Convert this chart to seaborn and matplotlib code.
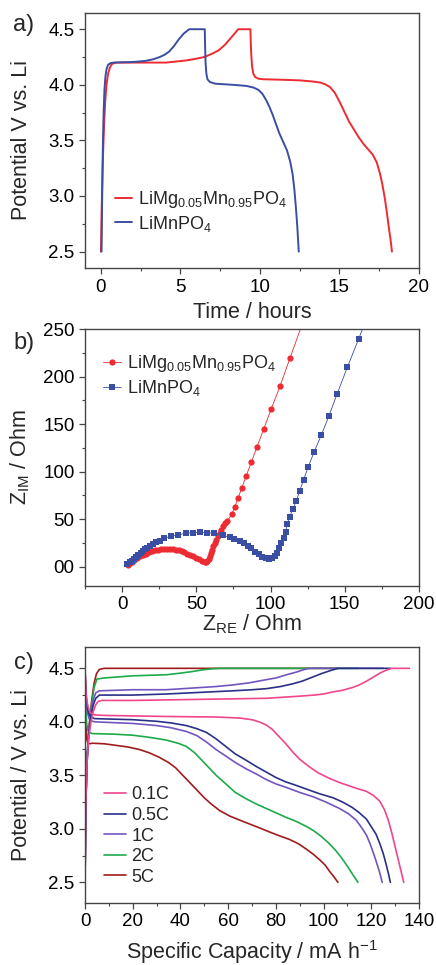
"""
Three stacked panels: charge/discharge vs time, Nyquist plot, rate capability.
"""
import numpy as np
import matplotlib
matplotlib.use("Agg")
import matplotlib.pyplot as plt
from matplotlib.ticker import MultipleLocator, FormatStrFormatter
import seaborn as sns

# ============================
# Data - panel a (time / hours, potential / V)
# ============================
t_mg = [0.0, 0.05, 0.1, 0.15, 0.2, 0.27, 0.35, 0.45, 0.55, 0.65, 0.8, 1.0, 2.0, 4.1,
        5.4, 6.0, 6.5, 7.0, 7.4, 7.8, 8.1, 8.4, 8.63,
        9.4, 9.42, 9.45, 9.5, 9.58, 9.7, 9.9, 10.2, 11.5, 12.5, 13.3, 13.8, 14.1, 14.4,
        14.7, 15.0, 15.3, 15.6, 15.9, 16.2, 16.5, 16.8, 17.1, 17.35, 17.55, 17.7, 17.85,
        17.98, 18.1, 18.2, 18.3]
v_mg = [2.5, 2.9, 3.2, 3.45, 3.65, 3.85, 4.0, 4.1, 4.15, 4.18, 4.195, 4.2, 4.2, 4.2,
        4.22, 4.235, 4.25, 4.28, 4.31, 4.36, 4.41, 4.46, 4.5,
        4.5, 4.4, 4.28, 4.17, 4.1, 4.07, 4.055, 4.05, 4.045, 4.04, 4.03, 4.02, 4.005, 3.98,
        3.93, 3.85, 3.76, 3.67, 3.6, 3.53, 3.47, 3.42, 3.37, 3.3, 3.2, 3.1, 2.98,
        2.85, 2.72, 2.62, 2.5]
t_mn = [0.04, 0.07, 0.1, 0.13, 0.17, 0.22, 0.28, 0.35, 0.45, 0.6, 0.8, 2.0, 2.8, 3.3,
        3.7, 4.0, 4.3, 4.6, 4.9, 5.2, 5.55,
        6.53, 6.55, 6.58, 6.63, 6.7, 6.85, 7.2, 8.3, 9.15, 9.6, 9.9, 10.15, 10.4, 10.6,
        10.8, 11.0, 11.2, 11.45, 11.7, 11.9, 12.05, 12.17, 12.27, 12.35, 12.44]
v_mn = [2.5, 2.9, 3.25, 3.5, 3.75, 3.95, 4.07, 4.14, 4.18, 4.195, 4.2, 4.205, 4.215, 4.23,
        4.25, 4.27, 4.3, 4.35, 4.41, 4.46, 4.5,
        4.5, 4.35, 4.2, 4.1, 4.05, 4.025, 4.01, 4.0, 3.99, 3.975, 3.955, 3.92, 3.86, 3.8,
        3.73, 3.65, 3.57, 3.49, 3.41, 3.31, 3.2, 3.05, 2.88, 2.72, 2.5]

# ============================
# Data - panel b (Z_RE, Z_IM / Ohm)
# ============================
zre_mg = [3.8, 5, 6.5, 8, 10, 12, 14, 16, 18, 20, 22, 24, 26, 28, 30, 32, 34, 36, 38,
          40, 42, 44, 46, 48, 50, 52, 54, 55.5, 56.5, 57.5, 58.3, 59, 59.8, 60.6,
          61.5, 62.4, 63.4, 64.5, 65.6, 66.8, 68.0, 69.3, 70.8, 73.9, 76.0, 78.0,
          80.7, 83.6, 87.0, 90.8, 95.3, 100.4, 106.5, 113.0, 121.5]
zim_mg = [1.8, 3.5, 5.3, 7, 9, 10.8, 12.4, 13.9, 15.2, 16.3, 17.2, 17.9, 18.4, 18.7,
          18.8, 18.7, 18.4, 17.8, 17.1, 16.2, 15.1, 13.8, 12.3, 10.8, 9.2, 7.7, 6.3,
          5.4, 5.2, 6.2, 8.5, 11.5, 14.5, 18, 21.5, 25, 28.5, 32, 35.5, 39, 42.5,
          45.5, 48.0, 55.4, 63.1, 71.9, 83.1, 95.7, 109.7, 125.9, 144.5, 165.8,
          190.4, 219.1, 256]
zre_mn = [3.4, 5, 6.5, 8, 9.5, 11, 12.5, 14, 15.5, 17, 18.8, 20.6, 22.8, 25.2, 28.5,
          33.0, 37.5, 42.7, 47.6, 52.6, 57.3, 62.2, 67.8, 72.4, 75.7, 79.1, 81.8,
          84.7, 87.0, 89.7, 91.9, 94.4, 96.6, 98.9, 101.1, 102.7, 104.3, 105.6,
          107.2, 108.8, 110.1, 111.3, 112.8, 115.0, 117.3, 119.6, 122.2, 125.4,
          129.4, 134.2, 139.3, 144.9, 151.7, 159.3, 167.5]
zim_mn = [2.8, 4.6, 6.5, 8.5, 10.5, 12.5, 14.5, 16.4, 18.3, 20, 21.9, 23.6, 25.6, 27.4,
          29.9, 32.3, 33.4, 35.2, 35.8, 36.2, 35.8, 35.2, 33.4, 30.9, 29.2, 27.4,
          24.6, 21.8, 19.4, 15.8, 13.1, 10.5, 8.8, 7.8, 8.8, 11.3, 14.7, 19.4, 24.6,
          29.9, 36.8, 44.9, 52.6, 60.4, 69.1, 79.6, 91.2, 105.2, 121.0, 138.5,
          158.5, 182.0, 209.7, 239.5, 272.0]
zim_tick_labels = ["00", "50", "100", "150", "200", "250"]

# ============================
# Data - panel c (capacity / mA h g-1, potential / V)
# ============================
rates = ["0.1C", "0.5C", "1C", "2C", "5C"]
rate_colors = ["#f0468c", "#2b3087", "#7355c0", "#1daa4a", "#a01c1c"]

chg_cap = {
    "0.1C": [0, 0.3, 0.8, 1.5, 2.5, 3.5, 4.5, 5.5, 7, 20, 48, 76, 90, 96, 100, 104, 108,
             112, 115, 118, 121, 124, 126.5, 128.5, 136],
    "0.5C": [0, 0.3, 0.8, 1.5, 2.5, 3.5, 4.5, 6, 20, 34, 62, 70, 76, 82, 87, 91, 95.6,
             99, 103, 106, 128],
    "1C": [0, 0.3, 0.8, 1.5, 2.5, 3.5, 4.5, 6, 20, 34, 55, 62, 69, 75, 80, 84.5, 88.6,
           92, 94, 125],
    "2C": [0, 0.3, 0.8, 1.8, 2.8, 3.8, 5, 8, 20, 34, 40, 45, 49, 53, 56.5, 114.5],
    "5C": [0, 0.3, 0.8, 1.8, 2.8, 3.8, 4.8, 6, 8, 106],
}
chg_v = {
    "0.1C": [2.5, 3.2, 3.6, 3.85, 4.0, 4.1, 4.16, 4.19, 4.2, 4.2, 4.21, 4.22, 4.24, 4.25,
             4.26, 4.28, 4.295, 4.32, 4.345, 4.38, 4.42, 4.46, 4.485, 4.5, 4.5],
    "0.5C": [2.5, 3.2, 3.6, 3.87, 4.05, 4.16, 4.22, 4.25, 4.25, 4.26, 4.29, 4.3, 4.31,
             4.33, 4.355, 4.38, 4.42, 4.45, 4.48, 4.5, 4.5],
    "1C": [2.5, 3.2, 3.62, 3.9, 4.1, 4.21, 4.27, 4.29, 4.3, 4.3, 4.33, 4.345, 4.365, 4.39,
           4.41, 4.44, 4.465, 4.49, 4.5, 4.5],
    "2C": [2.5, 3.2, 3.65, 3.95, 4.17, 4.32, 4.4, 4.41, 4.43, 4.44, 4.455, 4.47, 4.485,
           4.495, 4.5, 4.5],
    "5C": [2.5, 3.2, 3.65, 3.98, 4.2, 4.36, 4.45, 4.49, 4.5, 4.5],
}
dis_cap = {
    "0.1C": [0, 0.2, 0.5, 1, 1.7, 2.5, 4, 8, 34, 55, 65, 70, 73, 76, 78.5, 81, 84, 87, 90,
             94, 98, 102.6, 107, 111, 115, 118, 121, 123.5, 125.5, 127, 128.5, 129.8,
             131, 132.3, 133.6],
    "0.5C": [0, 0.2, 0.5, 1, 1.7, 2.5, 4, 20, 30, 36, 42.5, 47, 51, 55, 59, 63, 67.6, 72,
             76, 80, 84, 88, 93, 98, 104, 108, 112, 115, 118, 120, 122, 123.6, 125,
             126.2, 127.2, 128],
    "1C": [0, 0.2, 0.5, 1, 1.7, 2.5, 4, 20, 30, 36, 42.5, 47, 51, 55, 59, 63, 67.6, 72,
           76, 80, 84, 90, 95.6, 101, 106.7, 110.5, 113.7, 116, 118, 119.5, 120.8, 122,
           123.4, 124.6],
    "2C": [0, 0.15, 0.35, 0.7, 1.2, 2, 3, 12, 20, 27, 34, 39, 42.5, 46, 49, 52, 55, 59,
           63, 67.6, 72, 76, 80, 84, 88.5, 93, 96, 99, 102, 105, 107.5, 110, 112.3,
           114.4],
    "5C": [0, 0.15, 0.3, 0.5, 0.8, 1.2, 2, 3, 8, 13, 18, 23, 27, 31, 35, 38, 41, 44, 47,
           50, 53, 56.5, 60.6, 65, 69, 73, 77.4, 81.5, 85.8, 89.5, 92.8, 95.8, 98.4,
           100.7, 102.6, 104.4, 106],
}
dis_v = {
    "0.1C": [4.5, 4.38, 4.26, 4.17, 4.11, 4.08, 4.065, 4.06, 4.05, 4.045, 4.035, 4.02,
             4.0, 3.97, 3.93, 3.87, 3.8, 3.72, 3.65, 3.58, 3.52, 3.47, 3.43, 3.4, 3.37,
             3.35, 3.31, 3.26, 3.18, 3.09, 2.97, 2.85, 2.74, 2.62, 2.5],
    "0.5C": [4.5, 4.36, 4.23, 4.13, 4.07, 4.045, 4.03, 4.02, 4.005, 3.99, 3.965, 3.935,
             3.9, 3.84, 3.77, 3.7, 3.64, 3.58, 3.53, 3.48, 3.44, 3.41, 3.37, 3.33, 3.29,
             3.25, 3.2, 3.15, 3.09, 3.02, 2.95, 2.86, 2.77, 2.67, 2.58, 2.5],
    "1C": [4.5, 4.33, 4.19, 4.09, 4.03, 4.01, 4.0, 3.985, 3.965, 3.945, 3.91, 3.87, 3.81,
           3.74, 3.68, 3.62, 3.56, 3.51, 3.46, 3.42, 3.39, 3.34, 3.3, 3.25, 3.19, 3.14,
           3.08, 3.01, 2.94, 2.86, 2.78, 2.7, 2.6, 2.5],
    "2C": [4.5, 4.3, 4.12, 3.98, 3.92, 3.9, 3.89, 3.885, 3.875, 3.855, 3.83, 3.8, 3.77,
           3.71, 3.64, 3.57, 3.5, 3.42, 3.34, 3.28, 3.23, 3.19, 3.15, 3.11, 3.07, 3.02,
           2.98, 2.93, 2.87, 2.8, 2.73, 2.65, 2.57, 2.5],
    "5C": [4.5, 4.3, 4.1, 3.93, 3.83, 3.8, 3.795, 3.8, 3.795, 3.78, 3.765, 3.74, 3.71,
           3.67, 3.62, 3.57, 3.5, 3.43, 3.36, 3.29, 3.23, 3.17, 3.12, 3.08, 3.045, 3.01,
           2.97, 2.935, 2.9, 2.86, 2.81, 2.76, 2.71, 2.66, 2.6, 2.55, 2.5],
}

RED = "#ec2b32"
BLUE = "#3a4ea3"

# ============================
# Style
# ============================
sns.set_theme(style="ticks")
plt.rcParams["font.family"] = ["Liberation Sans", "DejaVu Sans"]
plt.rcParams["mathtext.fontset"] = "custom"
plt.rcParams["mathtext.rm"] = "Liberation Sans"
plt.rcParams["mathtext.it"] = "Liberation Sans:italic"
plt.rcParams["mathtext.default"] = "regular"
plt.rcParams["axes.edgecolor"] = "#444444"
plt.rcParams["axes.linewidth"] = 1.0

fig = plt.figure(figsize=(4.36, 9.65), dpi=100)
ax_a = fig.add_axes([0.195, 0.722, 0.766, 0.265])
ax_b = fig.add_axes([0.195, 0.393, 0.766, 0.266])
ax_c = fig.add_axes([0.195, 0.0646, 0.766, 0.265])


def style_axis(ax):
    ax.tick_params(which="major", direction="out", length=4, width=0.9,
                   labelsize=13.5, colors="#444444", labelcolor="black")
    ax.tick_params(which="minor", direction="out", length=2.5, width=0.8,
                   colors="#444444")
    ax.tick_params(top=False, right=False)


# ============================
# Panel a
# ============================
sns.lineplot(x=t_mg, y=v_mg, ax=ax_a, color=RED, lw=1.4, sort=False, estimator=None,
             label=r"LiMg$_{0.05}$Mn$_{0.95}$PO$_4$")
sns.lineplot(x=t_mn, y=v_mn, ax=ax_a, color=BLUE, lw=1.4, sort=False, estimator=None,
             label=r"LiMnPO$_4$")
ax_a.set_xlim(-1, 20)
ax_a.set_ylim(2.35, 4.65)
ax_a.xaxis.set_major_locator(MultipleLocator(5))
ax_a.xaxis.set_minor_locator(MultipleLocator(2.5))
ax_a.yaxis.set_major_locator(MultipleLocator(0.5))
ax_a.yaxis.set_minor_locator(MultipleLocator(0.25))
ax_a.yaxis.set_major_formatter(FormatStrFormatter("%.1f"))
ax_a.set_xlabel("Time / hours", fontsize=15.5)
ax_a.set_ylabel("Potential V vs. Li", fontsize=15.5)
ax_a.xaxis.set_label_coords(0.5, -0.13)
ax_a.yaxis.set_label_coords(-0.16, 0.5)
style_axis(ax_a)
ax_a.legend(loc="upper left", bbox_to_anchor=(0.09, 0.31), frameon=False,
            fontsize=13, handlelength=0.95, handletextpad=0.3, borderpad=0,
            borderaxespad=0, labelspacing=0.2)

# ============================
# Panel b
# ============================
sns.lineplot(x=zre_mg, y=zim_mg, ax=ax_b, color=RED, lw=0.6, sort=False, estimator=None,
             marker="o", markersize=4.5, markeredgewidth=0, markerfacecolor=RED,
             label=r"LiMg$_{0.05}$Mn$_{0.95}$PO$_4$")
sns.lineplot(x=zre_mn, y=zim_mn, ax=ax_b, color=BLUE, lw=0.6, sort=False, estimator=None,
             marker="s", markersize=4.0, markeredgewidth=0, markerfacecolor=BLUE,
             label=r"LiMnPO$_4$")
ax_b.set_xlim(-25, 200)
ax_b.set_ylim(-20, 250)
ax_b.xaxis.set_major_locator(MultipleLocator(50))
ax_b.xaxis.set_minor_locator(MultipleLocator(25))
ax_b.set_yticks([0, 50, 100, 150, 200, 250])
ax_b.set_yticklabels(zim_tick_labels)
ax_b.yaxis.set_minor_locator(MultipleLocator(25))
ax_b.set_xlabel(r"Z$_{RE}$ / Ohm", fontsize=15.5)
ax_b.set_ylabel(r"Z$_{IM}$ / Ohm", fontsize=15.5)
ax_b.xaxis.set_label_coords(0.5, -0.105)
ax_b.yaxis.set_label_coords(-0.16, 0.5)
style_axis(ax_b)
ax_b.legend(loc="upper left", bbox_to_anchor=(0.054, 0.905), frameon=False,
            fontsize=13, handlelength=1.0, handletextpad=0.35, borderpad=0,
            borderaxespad=0, labelspacing=0.2)

# ============================
# Panel c
# ============================
handles = {}
for rate, col in reversed(list(zip(rates, rate_colors))):
    sns.lineplot(x=chg_cap[rate], y=chg_v[rate], ax=ax_c, color=col, lw=1.2,
                 sort=False, estimator=None)
    sns.lineplot(x=dis_cap[rate], y=dis_v[rate], ax=ax_c, color=col, lw=1.2,
                 sort=False, estimator=None)
    handles[rate] = ax_c.lines[-1]
ax_c.set_xlim(0, 140)
ax_c.set_ylim(2.31, 4.70)
ax_c.xaxis.set_major_locator(MultipleLocator(20))
ax_c.xaxis.set_minor_locator(MultipleLocator(10))
ax_c.yaxis.set_major_locator(MultipleLocator(0.5))
ax_c.yaxis.set_minor_locator(MultipleLocator(0.25))
ax_c.yaxis.set_major_formatter(FormatStrFormatter("%.1f"))
ax_c.set_xlabel(r"Specific Capacity / mA h$^{-1}$", fontsize=15.5)
ax_c.set_ylabel("Potential / V vs. Li", fontsize=15.5)
ax_c.xaxis.set_label_coords(0.5, -0.14)
ax_c.yaxis.set_label_coords(-0.16, 0.5)
style_axis(ax_c)
ax_c.legend([handles[r] for r in rates], rates, loc="upper left",
            bbox_to_anchor=(0.057, 0.455), frameon=False, fontsize=13,
            handlelength=1.2, handletextpad=0.3, borderpad=0, borderaxespad=0,
            labelspacing=0.2)

# ============================
# Panel letters
# ============================
fig.text(0.055, 0.974, "a)", fontsize=17, ha="center", va="center")
fig.text(0.055, 0.645, "b)", fontsize=17, ha="center", va="center")
fig.text(0.055, 0.313, "c)", fontsize=17, ha="center", va="center")

fig.savefig("out.png", dpi=100)
